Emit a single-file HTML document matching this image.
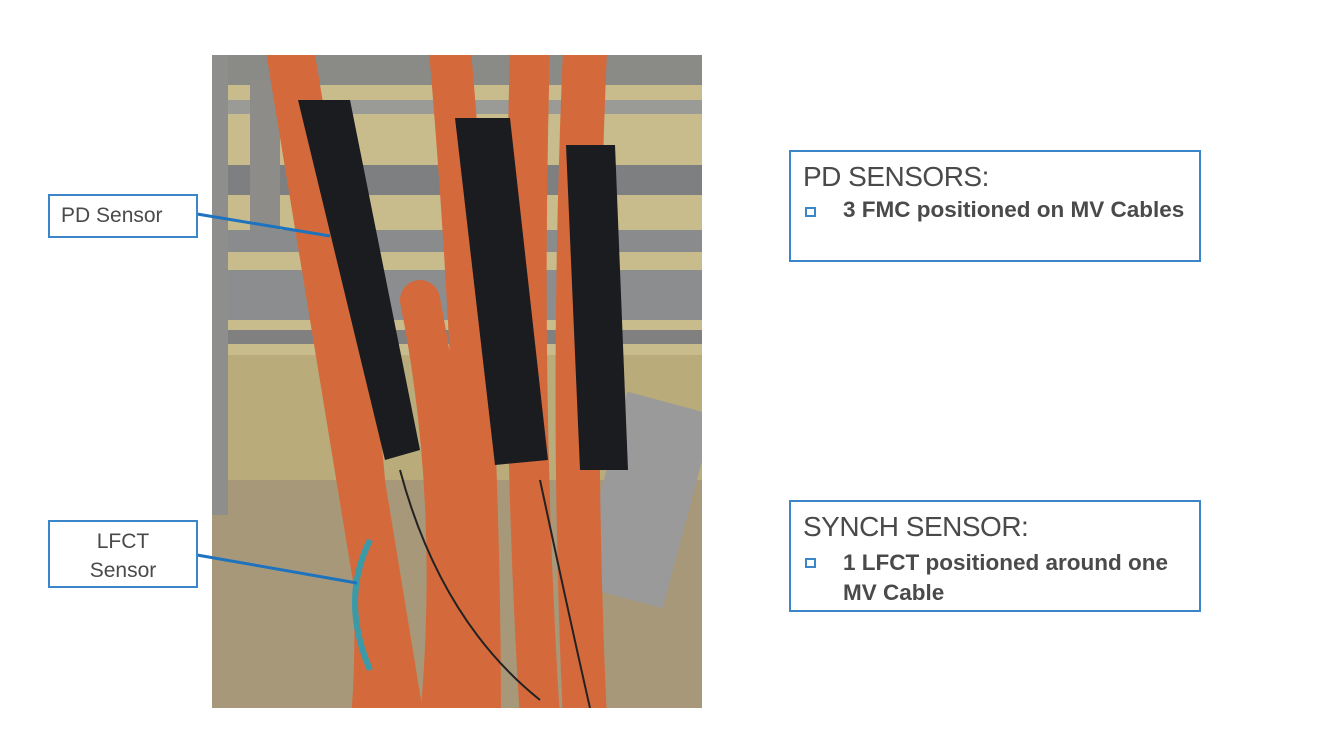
<!DOCTYPE html>
<html><head><meta charset="utf-8"><style>
html,body{margin:0;padding:0;background:#fff;}
body{width:1344px;height:741px;position:relative;overflow:hidden;font-family:"Liberation Sans",sans-serif;}
.box{position:absolute;border:2px solid #3a86c8;background:#fff;box-sizing:border-box;color:#4a4a4a;}
</style></head><body>
<svg width="1344" height="741" style="position:absolute;left:0;top:0">
<defs><clipPath id="c"><rect x="212" y="55" width="490" height="653"/></clipPath></defs>
<g clip-path="url(#c)">
<rect x="212" y="55" width="490" height="653" fill="#b9ab7a"/>
<rect x="212" y="55" width="490" height="300" fill="#c8bc8c"/>
<rect x="212" y="480" width="490" height="228" fill="#a8987a"/>
<rect x="212" y="55" width="490" height="30" fill="#8a8a86"/>
<rect x="212" y="100" width="490" height="14" fill="#9a9a96"/>
<rect x="212" y="165" width="490" height="30" fill="#7e7f80"/>
<rect x="212" y="230" width="490" height="22" fill="#8a8b8c"/>
<rect x="212" y="270" width="490" height="50" fill="#8c8d8e"/>
<rect x="212" y="330" width="490" height="14" fill="#808080"/>
<rect x="212" y="55" width="16" height="460" fill="#8e8e8c"/>
<rect x="250" y="80" width="30" height="150" fill="#8e8c88"/>
<rect x="600" y="400" width="90" height="200" fill="#9a9a9a" transform="rotate(15 645 500)"/>
<g stroke="#d46a3c" stroke-linecap="round" fill="none">
<path d="M290 50 L400 720" stroke-width="48"/>
<path d="M420 300 Q460 500 440 720" stroke-width="40"/>
<path d="M450 50 Q480 400 480 720" stroke-width="42"/>
<path d="M530 50 Q520 400 540 720" stroke-width="40"/>
<path d="M585 50 Q570 400 585 720" stroke-width="44"/>
<path d="M360 420 Q380 600 370 720" stroke-width="38"/>
</g>
<g fill="#1b1c20">
<polygon points="298,100 350,100 420,450 385,460"/>
<polygon points="455,118 510,118 548,460 495,465"/>
<polygon points="566,145 615,145 628,470 580,470"/>
</g>
<path d="M370 540 Q340 600 370 670" stroke="#3a9aa8" stroke-width="6" fill="none"/>
<path d="M400 470 Q440 620 540 700 M540 480 Q570 620 590 708" stroke="#222" stroke-width="2" fill="none"/>
</g>
<line x1="197" y1="214" x2="330" y2="236" stroke="#1e73be" stroke-width="3"/>
<line x1="197" y1="555" x2="357" y2="583" stroke="#1e73be" stroke-width="3"/>
</svg>
<div class="box" style="left:48px;top:194px;width:150px;height:44px;font-size:21px;padding:8px 0 0 11px;">PD Sensor</div>
<div class="box" style="left:48px;top:520px;width:150px;height:68px;font-size:21px;text-align:center;line-height:29px;padding-top:5px;">LFCT<br>Sensor</div>
<div class="box" style="left:789px;top:150px;width:412px;height:112px;">
<div style="position:absolute;left:12px;top:9px;font-size:28px;letter-spacing:-0.5px;">PD SENSORS:</div>
<div style="position:absolute;left:14px;top:55px;width:7px;height:6px;border:2px solid #3a86c8;"></div>
<div style="position:absolute;left:52px;top:45px;font-size:22.5px;font-weight:bold;">3 FMC positioned on MV Cables</div>
</div>
<div class="box" style="left:789px;top:500px;width:412px;height:112px;">
<div style="position:absolute;left:12px;top:9px;font-size:28px;letter-spacing:-0.5px;">SYNCH SENSOR:</div>
<div style="position:absolute;left:14px;top:56px;width:7px;height:6px;border:2px solid #3a86c8;"></div>
<div style="position:absolute;left:52px;top:46px;font-size:22.5px;font-weight:bold;line-height:30px;">1 LFCT positioned around one<br>MV Cable</div>
</div>
</body></html>
